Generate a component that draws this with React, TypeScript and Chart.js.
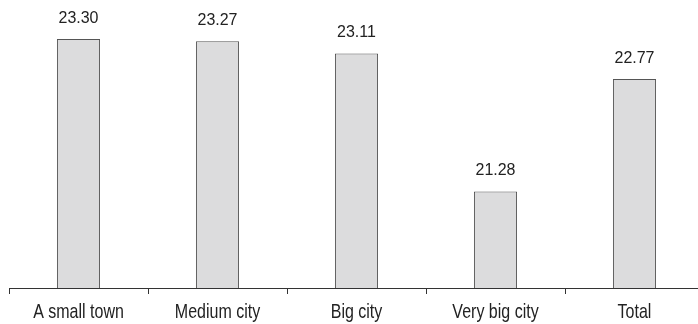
import React, { useEffect, useRef } from "react";
import { Chart, registerables } from "chart.js";

Chart.register(...registerables);

const categories = ["A small town", "Medium city", "Big city", "Very big city", "Total"];
const values = [23.3, 23.27, 23.11, 21.28, 22.77];
const yMin = 20;
const yMax = 23.5;

const FONT = "'Liberation Sans', Arial, sans-serif";

const valueLabels = {
  id: "valueLabels",
  afterDatasetsDraw(chart: any) {
    const ctx = chart.ctx;
    const meta = chart.getDatasetMeta(0);
    ctx.save();
    ctx.font = `16px ${FONT}`;
    ctx.fillStyle = "#222";
    ctx.textAlign = "center";
    ctx.textBaseline = "alphabetic";
    meta.data.forEach((el: any, i: number) => {
      ctx.save();
      ctx.translate(el.x, el.y - 16);
      ctx.scale(1, 1.05);
      ctx.fillText(values[i].toFixed(2), 0, 0);
      ctx.restore();
    });
    // category labels, slightly stretched vertically like the reference
    const xs = chart.scales.x;
    ctx.font = `16px ${FONT}`;
    categories.forEach((c, i) => {
      const x = xs.getPixelForValue(i);
      ctx.save();
      ctx.translate(x, xs.top + 29.5);
      ctx.scale(1, 1.22);
      ctx.fillText(c, 0, 0);
      ctx.restore();
    });
    ctx.restore();
  },
};

export default function App() {
  const ref = useRef<HTMLCanvasElement>(null);
  useEffect(() => {
    document.body.style.margin = "0";
    document.body.style.overflow = "hidden";
    const chart = new Chart(ref.current!, {
      type: "bar",
      data: {
        labels: categories,
        datasets: [
          {
            data: values,
            backgroundColor: "#dcdcdd",
            borderColor: "#555555",
            borderWidth: 1,
            borderSkipped: "bottom",
            barPercentage: 0.31,
            categoryPercentage: 1,
          },
        ],
      },
      options: {
        responsive: false,
        animation: false,
        layout: { padding: { left: 9, right: 1, top: 24, bottom: 0 } },
        plugins: { legend: { display: false }, tooltip: { enabled: false } },
        scales: {
          y: { display: false, min: yMin, max: yMax },
          x: {
            afterFit(scale: any) {
              scale.height = 36;
            },
            border: { display: true, color: "#333", width: 1 },
            grid: {
              display: true,
              drawOnChartArea: false,
              drawTicks: true,
              tickLength: 6,
              color: "#333",
              offset: true,
            },
            ticks: {
              color: "rgba(0,0,0,0)",
              padding: 9,
              font: { family: FONT, size: 16 },
              maxRotation: 0,
            },
          },
        },
      },
      plugins: [valueLabels],
    });
    return () => chart.destroy();
  }, []);
  return (
    <div style={{ position: "absolute", left: 0, top: 0, width: 698, height: 324, overflow: "hidden" }}>
      <canvas ref={ref} width={705} height={324} style={{ display: "block" }} />
    </div>
  );
}
